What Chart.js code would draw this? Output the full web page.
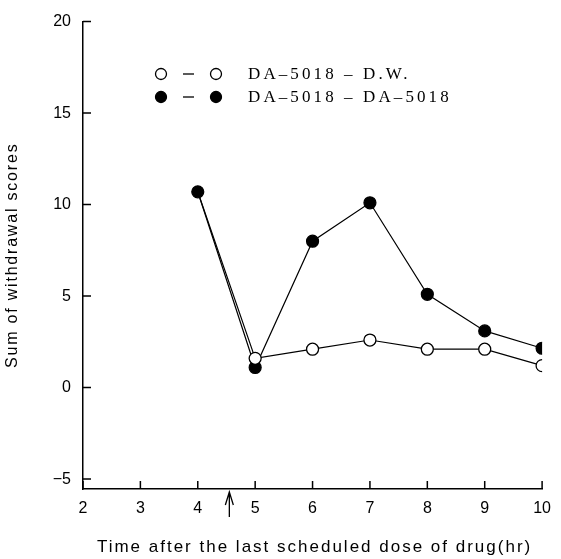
<!DOCTYPE html>
<html>
<head>
<meta charset="utf-8">
<script src="https://cdn.jsdelivr.net/npm/chart.js@4/dist/chart.umd.min.js"></script>
<style>
  html, body { margin: 0; padding: 0; background: #fff; }
  #wrap { width: 561px; height: 559px; }
</style>
</head>
<body>
<div id="wrap"><canvas id="myChart" width="561" height="559"></canvas></div>
<script>
// data
const hours = [4, 5, 6, 7, 8, 9, 10]
const dwScores = [10.7, 1.6, 2.1, 2.6, 2.1, 2.1, 1.2]        // DA-5018 - D.W. (open)
const drugScores = [10.7, 1.1, 8.0, 10.1, 5.1, 3.1, 2.15]    // DA-5018 - DA-5018 (filled)
const xTicks = [2, 3, 4, 5, 6, 7, 8, 9, 10]
const yTicks = [-5, 0, 5, 10, 15, 20]
const arrowAt = 4.55
const legendLabels = ["DA-5018 - D.W.", "DA-5018 - DA-5018"]
const xTitle = "Time after the last scheduled dose of drug(hr)"
const yTitle = "Sum of withdrawal scores"

const sans = "'Liberation Sans', Arial, sans-serif"
const tickFont = { family: sans, size: 16 }

// ticks pointing into the plot, arrow under the x axis, legend, axis titles
const extras = {
  id: "extras",
  afterDraw(chart) {
    const ctx = chart.ctx
    const x = chart.scales.x, y = chart.scales.y
    const a = chart.chartArea
    ctx.save()
    ctx.strokeStyle = "#000"
    ctx.lineWidth = 1.5
    ctx.beginPath()
    yTicks.forEach(v => {
      const py = y.getPixelForValue(v)
      ctx.moveTo(a.left, py)
      ctx.lineTo(a.left + 8, py)
    })
    xTicks.forEach(v => {
      const px = x.getPixelForValue(v)
      ctx.moveTo(px, a.bottom)
      ctx.lineTo(px, a.bottom - 8)
    })
    ctx.stroke()

    // arrow
    const ax = x.getPixelForValue(arrowAt)
    const top = a.bottom + 3
    ctx.lineWidth = 1.3
    ctx.beginPath()
    ctx.moveTo(ax, top + 25)
    ctx.lineTo(ax, top)
    ctx.moveTo(ax - 4, top + 13)
    ctx.lineTo(ax, top)
    ctx.lineTo(ax + 4, top + 13)
    ctx.stroke()

    // legend
    const rows = [74, 97]
    ctx.lineWidth = 1.3
    rows.forEach((ry, i) => {
      [161, 216].forEach(mx => {
        ctx.beginPath()
        ctx.arc(mx, ry, 5.5, 0, Math.PI * 2)
        ctx.fillStyle = i === 0 ? "#fff" : "#000"
        ctx.fill()
        ctx.stroke()
      })
      ctx.beginPath()
      ctx.moveTo(183, ry)
      ctx.lineTo(194, ry)
      ctx.stroke()
      ctx.fillStyle = "#000"
      ctx.font = "17px 'Liberation Serif', 'Times New Roman', serif"
      ctx.letterSpacing = "3.1px"
      ctx.textBaseline = "middle"
      ctx.textAlign = "left"
      ctx.fillText(legendLabels[i].replace(/-/g, "\u2013"), 248, ry + 1)
    })

    // axis titles
    ctx.fillStyle = "#000"
    ctx.textAlign = "center"
    ctx.textBaseline = "middle"
    ctx.font = "17px " + sans
    ctx.letterSpacing = "2px"
    ctx.fillText(xTitle, (a.left + a.right) / 2 + 2, 547)
    ctx.translate(13, (a.top + a.bottom) / 2)
    ctx.rotate(-Math.PI / 2)
    ctx.font = "16px " + sans
    ctx.letterSpacing = "1.8px"
    ctx.fillText(yTitle, 0, 0)
    ctx.restore()
  }
}

const ctx = document.getElementById("myChart")
new Chart(ctx, {
  type: "line",
  data: {
    datasets: [{
      label: legendLabels[0],
      data: hours.map((h, i) => ({ x: h, y: dwScores[i] })),
      borderColor: "#000",
      borderWidth: 1.2,
      pointBackgroundColor: "#fff",
      pointBorderColor: "#000",
      pointBorderWidth: 1.3,
      pointRadius: [0, 6, 6, 6, 6, 6, 6],
      order: 0
    }, {
      label: legendLabels[1],
      data: hours.map((h, i) => ({ x: h, y: drugScores[i] })),
      borderColor: "#000",
      borderWidth: 1.2,
      pointBackgroundColor: "#000",
      pointBorderColor: "#000",
      pointRadius: 6,
      order: 1
    }]
  },
  options: {
    responsive: false,
    animation: false,
    layout: { padding: { top: 15, right: 12, left: 0, bottom: 0 } },
    plugins: { legend: { display: false }, tooltip: { enabled: false } },
    scales: {
      x: {
        type: "linear",
        min: 2,
        max: 10,
        afterFit: s => { s.height = 70 },
        afterBuildTicks: s => { s.ticks = xTicks.map(v => ({ value: v })) },
        grid: { display: true, drawOnChartArea: false, drawTicks: false },
        border: { display: true, color: "#000", width: 1.5 },
        ticks: { color: "#000", font: tickFont, padding: 10, maxRotation: 0 }
      },
      y: {
        min: -5.54,
        max: 20,
        afterFit: s => { s.width = 83 },
        afterBuildTicks: s => { s.ticks = yTicks.map(v => ({ value: v })) },
        grid: { display: true, drawOnChartArea: false, drawTicks: false },
        border: { display: true, color: "#000", width: 1.5 },
        ticks: {
          color: "#000",
          font: tickFont,
          padding: 12,
          callback: v => String(v).replace("-", "\u2212")
        }
      }
    }
  },
  plugins: [extras]
})
</script>
</body>
</html>
